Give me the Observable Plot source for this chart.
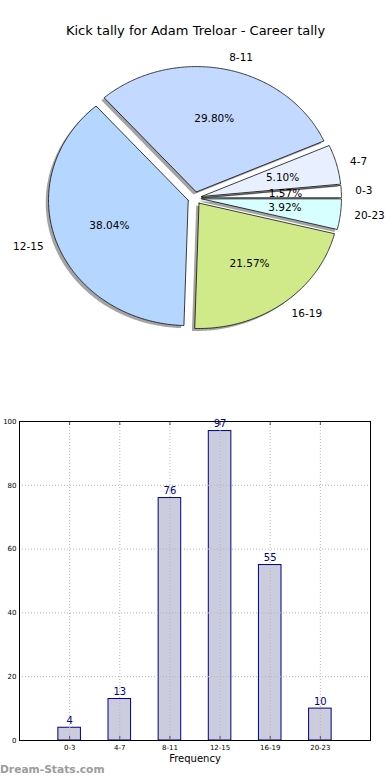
<!DOCTYPE html>
<html>
<head>
<meta charset="utf-8">
<script src="https://cdn.jsdelivr.net/npm/d3@7"></script>
<script src="https://cdn.jsdelivr.net/npm/@observablehq/plot@0.6"></script>
<style>
  html, body { margin: 0; padding: 0; background: #fff; }
  #wrap { position: relative; width: 390px; height: 780px; overflow: hidden; font-family: "DejaVu Sans", sans-serif; }
  #pie, #bar { position: absolute; left: 0; }
  #pie { top: 0; }
  #bar { top: 390px; }
  #wm { position: absolute; left: 0; top: 763px; font: bold 10.7px "DejaVu Sans", sans-serif; color: #9c9c9c; }
</style>
</head>
<body>
<div id="wrap">
  <div id="pie"></div>
  <div id="bar"></div>
  <div id="wm">Dream-Stats.com</div>
</div>
<script>
const title = "Kick tally for Adam Treloar - Career tally";
const categories = ["0-3", "4-7", "8-11", "12-15", "16-19", "20-23"];
const counts = [4, 13, 76, 97, 55, 10];
const sliceColors = ["#ffffff", "#e8efff", "#c4d9ff", "#b4d6ff", "#d0ea8a", "#d8ffff"];
const xLabel = "Frequency";

// ---------- Pie (matplotlib style: start at 0 rad, counter-clockwise, exploded, shadowed) ----------
const total = d3.sum(counts);
const explode = 0.05, labelDist = 1.1, pctDist = 0.6;
let acc = 0;
const slices = counts.map((v, i) => {
  const a0 = acc / total * 2 * Math.PI;
  acc += v;
  const a1 = acc / total * 2 * Math.PI;
  const am = (a0 + a1) / 2;
  const cx = explode * Math.cos(am), cy = explode * Math.sin(am);
  const n = Math.max(4, Math.ceil((a1 - a0) / 0.01));
  const pts = [[cx, cy]];
  for (let k = 0; k <= n; k++) {
    const a = a0 + (a1 - a0) * k / n;
    pts.push([cx + Math.cos(a), cy + Math.sin(a)]);
  }
  pts.push([cx, cy]);
  return {
    i, v, cat: categories[i], color: sliceColors[i], am, cx, cy, pts,
    lx: cx + labelDist * Math.cos(am), ly: cy + labelDist * Math.sin(am),
    px: cx + pctDist * Math.cos(am), py: cy + pctDist * Math.sin(am),
    pct: (v / total * 100).toFixed(2) + "%"
  };
});

const shadowOff = -0.02;
const pieMarks = [];
slices.forEach(s => {
  pieMarks.push(Plot.line(s.pts, {
    x: d => d[0] + shadowOff, y: d => d[1] + shadowOff,
    fill: "#4a4a4a", fillOpacity: 0.5, stroke: "none"
  }));
  pieMarks.push(Plot.line(s.pts, {
    x: d => d[0], y: d => d[1],
    fill: s.color, stroke: "black", strokeWidth: 0.75, strokeLinejoin: "miter"
  }));
});
pieMarks.push(Plot.text(slices.filter(d => d.lx > 0), {
  x: "lx", y: "ly", text: "cat", textAnchor: "start", fontSize: 10.5, fill: "black"
}));
pieMarks.push(Plot.text(slices.filter(d => d.lx <= 0), {
  x: "lx", y: "ly", text: "cat", textAnchor: "end", fontSize: 10.5, fill: "black"
}));
pieMarks.push(Plot.text(slices, {
  x: "px", y: "py", text: "pct", fontSize: 10.5, fill: "black"
}));
pieMarks.push(Plot.text([title], {
  frameAnchor: "top", dy: 30, fontSize: 13, fill: "black", lineAnchor: "middle"
}));

const PCX = 194.3, PCY = 197.6, RX = 139.7, RY = 125.4, PW = 390, PH = 390;
const pie = Plot.plot({
  width: PW, height: PH,
  margin: 0,
  style: { fontFamily: "DejaVu Sans, sans-serif", background: "white" },
  x: { domain: [-PCX / RX, (PW - PCX) / RX], range: [0, PW], axis: null },
  y: { domain: [(PCY - PH) / RY, PCY / RY], range: [PH, 0], axis: null },
  marks: pieMarks
});
document.getElementById("pie").append(pie);

// ---------- Bar chart ----------
const yTicks = [0, 20, 40, 60, 80, 100];
const barData = counts.map((v, i) => ({ i, v, cat: categories[i] }));
const idx = categories.map((c, i) => i);
const barW = 0.45;

const bar = Plot.plot({
  width: 390, height: 390,
  marginTop: 31, marginBottom: 40, marginLeft: 19, marginRight: 20,
  style: { fontFamily: "DejaVu Sans, sans-serif", background: "white", fontSize: "7px" },
  x: { domain: [-1, 6], axis: null },
  y: { domain: [0, 100], axis: null },
  marks: [
    Plot.rect(barData, {
      x1: d => d.i - barW / 2, x2: d => d.i + barW / 2, y1: 0, y2: "v",
      fill: "#ccccdf", stroke: "#000080", strokeWidth: 1
    }),
    Plot.ruleX(idx, { stroke: "#b5b5b5", strokeDasharray: "1,2" }),
    Plot.ruleY(yTicks, { stroke: "#b5b5b5", strokeDasharray: "1,2" }),
    Plot.ruleX(idx, { y1: 0, y2: 1.3, stroke: "#555" }),
    Plot.ruleX(idx, { y1: 98.7, y2: 100, stroke: "#555" }),
    Plot.frame({ stroke: "black", strokeWidth: 1 }),
    Plot.text(barData, { x: "i", y: "v", text: d => String(d.v), dy: -7, fill: "#000080", fontSize: 10 }),
    Plot.axisX(idx, { tickFormat: i => categories[i], tickSize: 0, tickPadding: 5, fontSize: 7, label: null }),
    Plot.axisY(yTicks, { tickSize: 0, tickPadding: 3, fontSize: 7, label: null }),
    Plot.text([xLabel], { frameAnchor: "bottom", dy: 21, fontSize: 10, fill: "black" })
  ]
});
document.getElementById("bar").append(bar);
</script>
</body>
</html>
